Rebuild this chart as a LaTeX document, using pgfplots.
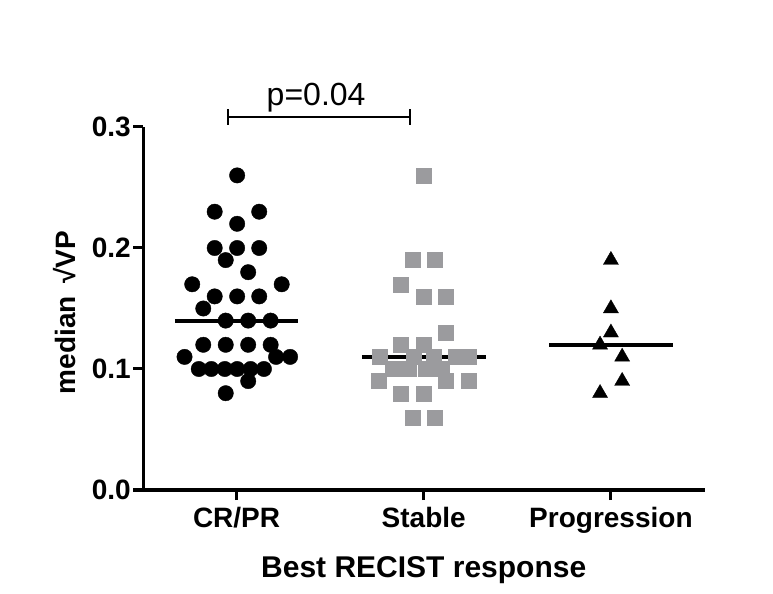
\documentclass[border=0pt]{standalone}
\usepackage{pgfplots}
\pgfplotsset{compat=1.18}
\usepackage{fontspec}
\setmainfont{Liberation Sans}
\definecolor{sqgray}{RGB}{155,155,158}
\begin{document}
\begin{tikzpicture}
\useasboundingbox (0,0) rectangle (773bp,594bp);
\begin{axis}[
  at={(143bp,104bp)}, anchor=south west,
  scale only axis, width=561.5bp, height=363bp,
  xmin=0.5, xmax=3.5, ymin=0, ymax=0.3,
  axis lines*=left,
  axis line style={line width=3bp, black},
  clip=false,
  xtick={1,2,3}, xticklabels={CR/PR,Stable,Progression},
  ytick={0,0.1,0.2,0.3},
  tick align=outside, major tick length=10bp,
  tick style={line width=3bp, black},
  /pgf/number format/assume math mode=true,
  yticklabel style={/pgf/number format/.cd, fixed, fixed zerofill, precision=1},
  ticklabel style={font=\fontsize{28bp}{31bp}\selectfont\bfseries, inner sep=2bp},
  xticklabel style={yshift=-5bp},
  xlabel={Best RECIST response},
  xlabel style={at={(axis description cs:0.5,-0.22)}, anchor=center, font=\fontsize{30bp}{34bp}\selectfont\bfseries},
  ylabel={median \,\symbol{"221A}VP},
  ylabel style={at={(axis description cs:-0.139,0.489)}, anchor=center, rotate=0, font=\fontsize{28bp}{32bp}\selectfont\bfseries},
]
% CR/PR
\addplot[only marks, mark=*, mark size=7.7bp, black, mark options={draw=black, fill=black}] coordinates {
(1.003,0.26)
(0.883,0.23)(1.121,0.23)
(1.003,0.22)
(0.883,0.20)(1.003,0.20)(1.121,0.20)
(0.942,0.19)
(1.062,0.18)
(0.763,0.17)(1.241,0.17)
(0.883,0.16)(1.003,0.16)(1.121,0.16)
(0.822,0.15)
(0.942,0.14)(1.062,0.14)(1.182,0.14)
(0.822,0.12)(0.942,0.12)(1.062,0.12)(1.182,0.12)
(0.722,0.11)(1.211,0.11)(1.286,0.11)
(0.798,0.10)(0.865,0.10)(0.937,0.10)(1.003,0.10)(1.075,0.10)(1.146,0.10)
(1.062,0.09)
(0.942,0.08)
};
% Stable
\addplot[only marks, mark=square*, mark size=7.5bp, sqgray, mark options={draw=sqgray, fill=sqgray}] coordinates {
(2.000,0.26)
(1.940,0.19)(2.060,0.19)
(1.879,0.17)
(2.000,0.16)(2.119,0.16)
(2.119,0.13)
(1.879,0.12)(2.000,0.12)
(1.764,0.11)(1.944,0.11)(2.054,0.11)(2.171,0.11)(2.239,0.11)
(1.836,0.10)(1.922,0.10)(2.008,0.10)(2.094,0.10)
(1.759,0.09)(2.119,0.09)(2.239,0.09)
(1.879,0.08)(2.000,0.08)
(1.940,0.06)(2.060,0.06)
};
% Progression
\addplot[only marks, mark=triangle*, mark size=8.7bp, black, mark options={draw=black, fill=black}] coordinates {
(3.000,0.19)
(3.000,0.15)
(3.000,0.13)
(2.942,0.12)
(3.060,0.11)
(3.060,0.09)
(2.942,0.08)
};
% medians
\addplot[black, line width=4bp, no marks] coordinates {(0.67,0.14) (1.33,0.14)};
\addplot[black, line width=4bp, no marks] coordinates {(1.67,0.11) (2.33,0.11)};
\addplot[black, line width=4bp, no marks] coordinates {(2.67,0.12) (3.33,0.12)};
% significance bracket
\addplot[black, line width=2bp, no marks] coordinates {(0.953,0.3085) (1.929,0.3085)};
\addplot[black, line width=2bp, no marks] coordinates {(0.953,0.3017) (0.953,0.3145)};
\addplot[black, line width=2bp, no marks] coordinates {(1.929,0.3017) (1.929,0.3145)};
\node[anchor=base, font=\fontsize{32bp}{35bp}\selectfont, inner sep=0pt] at (axis cs:1.425,0.318) {p=0.04};
\end{axis}
\end{tikzpicture}
\end{document}
